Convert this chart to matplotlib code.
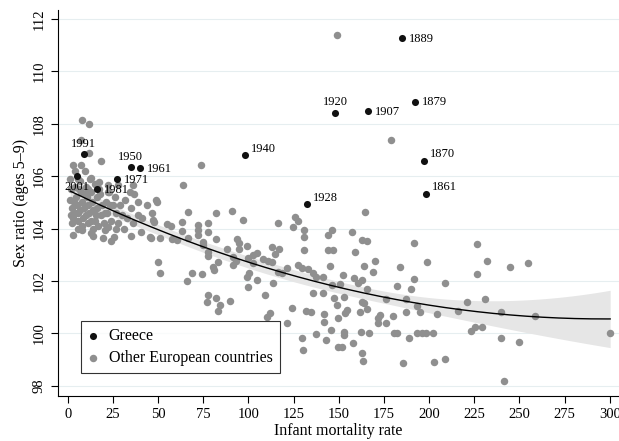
import numpy as np
import matplotlib.pyplot as plt

# Greece (black points, labelled by census year)
greece_year = ['1861', '1870', '1879', '1889', '1907', '1920', '1928',
               '1940', '1950', '1961', '1971', '1981', '1991', '2001']
greece_imr = [198.1, 197.0, 192.4, 185.0, 166.0, 148.1, 132.3,
              98.1, 35.0, 40.0, 27.1, 16.0, 9.0, 5.0]
greece_sex = [105.31, 106.59, 108.82, 111.26, 108.47, 108.40, 104.92,
              106.81, 106.35, 106.30, 105.88, 105.50, 106.83, 105.99]

# Other European countries (grey points): (infant mortality rate, sex ratio)
other_pts = [
    # dense low-mortality cluster
    (1.5, 105.9), (2.0, 105.5), (1.5, 105.1), (2.5, 104.8), (1.8, 104.5), (2.2, 104.2), (2.8, 103.75),
    (4.0, 105.6), (4.5, 105.2), (5.0, 104.9), (4.0, 104.6), (5.5, 104.3), (6.0, 104.0),
    (7.0, 105.8), (7.5, 105.4), (8.0, 105.0), (7.0, 104.7), (8.5, 104.4), (8.0, 104.1), (7.9, 103.94),
    (10.0, 105.6), (10.5, 105.2), (11.0, 104.9), (10.0, 104.5), (11.5, 104.2), (13.1, 103.82),
    (12.5, 105.9), (13.0, 105.4), (13.5, 105.0), (14.0, 104.7), (13.0, 104.3), (14.2, 103.7), (14.0, 104.0),
    (15.0, 105.7), (16.0, 105.2), (16.5, 104.8), (15.5, 104.5), (17.0, 104.1),
    (18.0, 105.3), (19.0, 104.9), (18.5, 104.5), (20.0, 104.2), (20.5, 103.94), (19.5, 103.63),
    (21.0, 105.0), (22.0, 104.6), (22.3, 104.07), (23.0, 105.4), (24.0, 104.3), (24.1, 103.52), (25.6, 103.69),
    (25.0, 104.9), (26.0, 105.2), (27.0, 104.6), (28.0, 104.2), (29.0, 104.9), (30.0, 104.5), (31.0, 104.0),
    (32.0, 105.1), (33.0, 104.4), (34.9, 103.73), (35.0, 104.8), (36.0, 104.2), (37.0, 105.3), (40.7, 103.88),
    (41.0, 104.4), (45.9, 103.63),
    (2.9, 106.43), (7.5, 106.43), (4.0, 106.2), (9.5, 106.2), (13.1, 105.92), (17.2, 105.79), (18.6, 106.59),
    (22.3, 105.41), (11.6, 106.87), (7.5, 107.38), (7.9, 108.14), (12.0, 107.99),
    (22.5, 105.66), (28.0, 105.66), (36.0, 105.66), (34.3, 105.41), (38.7, 105.02), (43.7, 104.9), (39.1, 104.52),
    (47.4, 104.33), (49.1, 105.09),
    (3.5, 105.0), (6.5, 105.5), (9.0, 104.8), (12.0, 104.6), (9.5, 105.3), (5.5, 105.9), (3.0, 104.4),
    (6.0, 104.6), (11.0, 105.5), (15.0, 104.3), (17.5, 105.5), (20.5, 104.6), (23.5, 104.9), (26.5, 104.0),
    # 45-105
    (64.0, 105.66), (49.6, 105.02), (46.5, 104.58), (47.8, 104.26), (66.8, 104.64), (82.1, 104.60), (91.1, 104.67),
    (96.9, 104.33), (54.8, 104.17), (57.0, 104.11), (71.9, 104.13), (71.9, 103.94), (63.1, 103.9), (77.8, 103.88),
    (45.6, 103.69), (51.1, 103.63), (57.6, 103.59), (60.3, 103.56), (66.8, 103.63), (71.9, 103.75), (75.1, 103.50),
    (75.1, 103.37), (82.1, 103.59), (93.9, 103.59), (95.0, 103.44), (99.1, 103.33), (88.0, 103.21), (95.0, 103.21),
    (77.8, 103.12), (77.8, 102.95), (83.4, 102.73), (91.3, 102.92), (91.3, 102.61), (93.2, 102.77), (100.0, 102.86),
    (102.4, 102.99), (104.6, 103.05), (102.7, 102.67), (80.3, 102.52), (81.2, 102.42), (50.1, 102.73), (51.1, 102.31),
    (69.0, 102.29), (74.2, 102.25), (66.2, 102.01), (99.1, 102.16), (100.5, 102.29), (104.6, 102.03), (100.0, 101.78),
    (63.1, 104.26), (77.8, 104.22), (73.8, 106.43),
    (77.8, 101.46), (82.1, 101.34), (76.9, 101.18), (84.3, 101.10), (89.8, 101.24), (83.0, 100.85),
    # 105-165
    (116.2, 104.2), (125.8, 104.43), (127.3, 104.30), (124.9, 104.07), (131.0, 103.94), (131.0, 103.67),
    (146.1, 103.94), (144.3, 103.75), (157.2, 103.85), (164.6, 104.64), (163.1, 103.56), (131.0, 103.18),
    (144.3, 103.18), (147.0, 103.18), (159.0, 103.12), (112.9, 103.31), (117.0, 103.21), (114.7, 103.03),
    (108.3, 102.84), (111.0, 102.77), (112.9, 102.73), (121.2, 102.48), (116.6, 102.35), (118.4, 102.29),
    (127.3, 102.61), (129.5, 102.48), (133.2, 102.44), (135.9, 102.29), (137.3, 102.14), (145.2, 102.58),
    (141.5, 102.16), (152.5, 102.23), (158.6, 102.10), (162.7, 102.03), (146.1, 101.84), (150.7, 101.88),
    (160.8, 101.91), (113.8, 101.91),
    (109.2, 101.46), (112.0, 100.76), (110.1, 100.63), (121.2, 100.38), (124.0, 100.98), (131.7, 100.85),
    (134.7, 100.80), (142.0, 100.72), (142.0, 100.44), (135.9, 101.53), (141.5, 101.53), (147.6, 101.34),
    (148.9, 101.08), (149.8, 100.60), (154.4, 100.89), (153.5, 100.76), (161.8, 100.82), (162.7, 101.2),
    (145.7, 100.12), (137.3, 99.96), (129.9, 99.83), (130.1, 99.36), (143.0, 99.74), (153.1, 100.06),
    (149.8, 99.49), (152.0, 99.49), (158.1, 99.62), (162.3, 100.06), (163.1, 99.24), (163.6, 98.94),
    (152.9, 101.40), (153.1, 99.95),
    # 165-230
    (165.8, 103.52), (191.9, 103.43), (226.7, 103.41), (164.0, 102.57), (170.1, 102.77), (169.1, 102.33),
    (183.9, 102.54), (199.0, 102.73), (226.7, 102.25), (165.8, 101.70), (182.1, 101.82), (189.8, 101.70),
    (191.7, 102.06), (208.8, 101.91), (176.0, 101.32), (187.3, 101.30), (164.0, 101.17), (165.8, 100.92),
    (172.9, 100.70), (171.9, 100.57), (171.9, 100.38), (176.2, 100.38), (180.2, 100.66), (187.1, 100.81),
    (193.5, 101.04), (195.0, 100.82), (204.2, 100.74), (215.9, 100.86), (220.8, 101.19), (223.0, 100.09),
    (166.9, 100.0), (180.6, 100.0), (182.1, 100.0), (188.9, 99.81), (193.2, 100.0), (195.9, 100.0),
    (198.3, 100.0), (202.0, 100.0), (185.8, 98.88), (202.7, 98.89), (208.8, 99.02),
    # 225-300
    (231.9, 102.76), (244.8, 102.54), (254.9, 102.70), (231.0, 101.31), (239.8, 100.80), (258.8, 100.67),
    (225.4, 100.25), (229.1, 100.25), (239.8, 99.81), (250.0, 99.67), (241.7, 98.19), (300.2, 100.0),
    # high outliers
    (149.1, 111.38), (178.9, 107.37),
]
other_imr = [p[0] for p in other_pts]
other_sex = [p[1] for p in other_pts]

# label offsets in pixels (dx, dy, ha)
label_pos = {
    '1861': (6, 7, 'left'), '1870': (6, 7, 'left'),
    '1879': (7, 0, 'left'), '1889': (7, -1, 'left'),
    '1907': (7, -1, 'left'), '1920': (0, 11, 'center'),
    '1928': (6, 6, 'left'), '1940': (6, 6, 'left'),
    '1950': (0, 10, 'center'), '1961': (7, -1, 'left'),
    '1971': (7, -1, 'left'), '1981': (7, -1, 'left'),
    '1991': (0, 10, 'center'), '2001': (0, -11, 'center'),
}

plt.rcParams['font.family'] = ['Liberation Serif', 'DejaVu Serif']

# quadratic fit with 95% CI (other European countries)
x_fit = np.array(other_imr)
y_fit = np.array(other_sex)
X = np.column_stack([np.ones_like(x_fit), x_fit, x_fit ** 2])
beta = np.linalg.lstsq(X, y_fit, rcond=None)[0]
n = len(x_fit)
s2 = np.sum((y_fit - X @ beta) ** 2) / (n - 3)
cov = s2 * np.linalg.inv(X.T @ X)
xg = np.linspace(min(x_fit.min(), min(greece_imr)), x_fit.max(), 200)
Xg = np.column_stack([np.ones_like(xg), xg, xg ** 2])
yg = Xg @ beta
se = np.sqrt(np.einsum('ij,jk,ik->i', Xg, cov, Xg))
lo, hi = yg - 1.97 * se, yg + 1.97 * se

fig = plt.figure(figsize=(6.19, 4.41), dpi=100)
ax = fig.add_axes([0.0932, 0.1027, 0.9068, 0.8746])

ax.fill_between(xg, lo, hi, color='#e6e6e6', lw=0, zorder=1)
ax.scatter(other_imr, other_sex, s=29, color='#8f8f8f', lw=0, zorder=2,
           label='Other European countries')
ax.plot(xg, yg, color='black', lw=1.0, zorder=3)
ax.scatter(greece_imr, greece_sex, s=26, color='#111111', lw=0, zorder=4,
           label='Greece')

for yr, xv, yv in zip(greece_year, greece_imr, greece_sex):
    dx, dy, ha = label_pos[yr]
    ax.annotate(yr, (xv, yv), xytext=(dx, dy), textcoords='offset pixels',
                ha=ha, va='center', fontsize=9)

ax.set_xlim(-5.5, 305.1)
ax.set_ylim(97.62, 112.34)
ax.set_xticks(range(0, 301, 25))
ax.set_yticks(range(98, 113, 2))
ax.yaxis.grid(True, color='#e6eef0', lw=0.8)
ax.set_axisbelow(True)
for sp in ['top', 'right']:
    ax.spines[sp].set_visible(False)
for sp in ['left', 'bottom']:
    ax.spines[sp].set_linewidth(0.8)
ax.tick_params(labelsize=10.5, length=5, width=0.8)
plt.setp(ax.get_yticklabels(), rotation=90, va='center')
ax.set_xlabel('Infant mortality rate', fontsize=11.5, labelpad=2)
ax.set_ylabel('Sex ratio (ages 5–9)', fontsize=11.5, labelpad=3)

h, l = ax.get_legend_handles_labels()
leg = ax.legend(h[::-1], l[::-1], loc='lower left', bbox_to_anchor=(0.041, 0.0589),
                borderaxespad=0, fancybox=False, fontsize=11.5, handlelength=0.7,
                handletextpad=0.6, labelspacing=0.35, borderpad=0.45)
leg.get_frame().set_edgecolor('black')
leg.get_frame().set_linewidth(0.8)

fig.savefig('out.png', dpi=100)
